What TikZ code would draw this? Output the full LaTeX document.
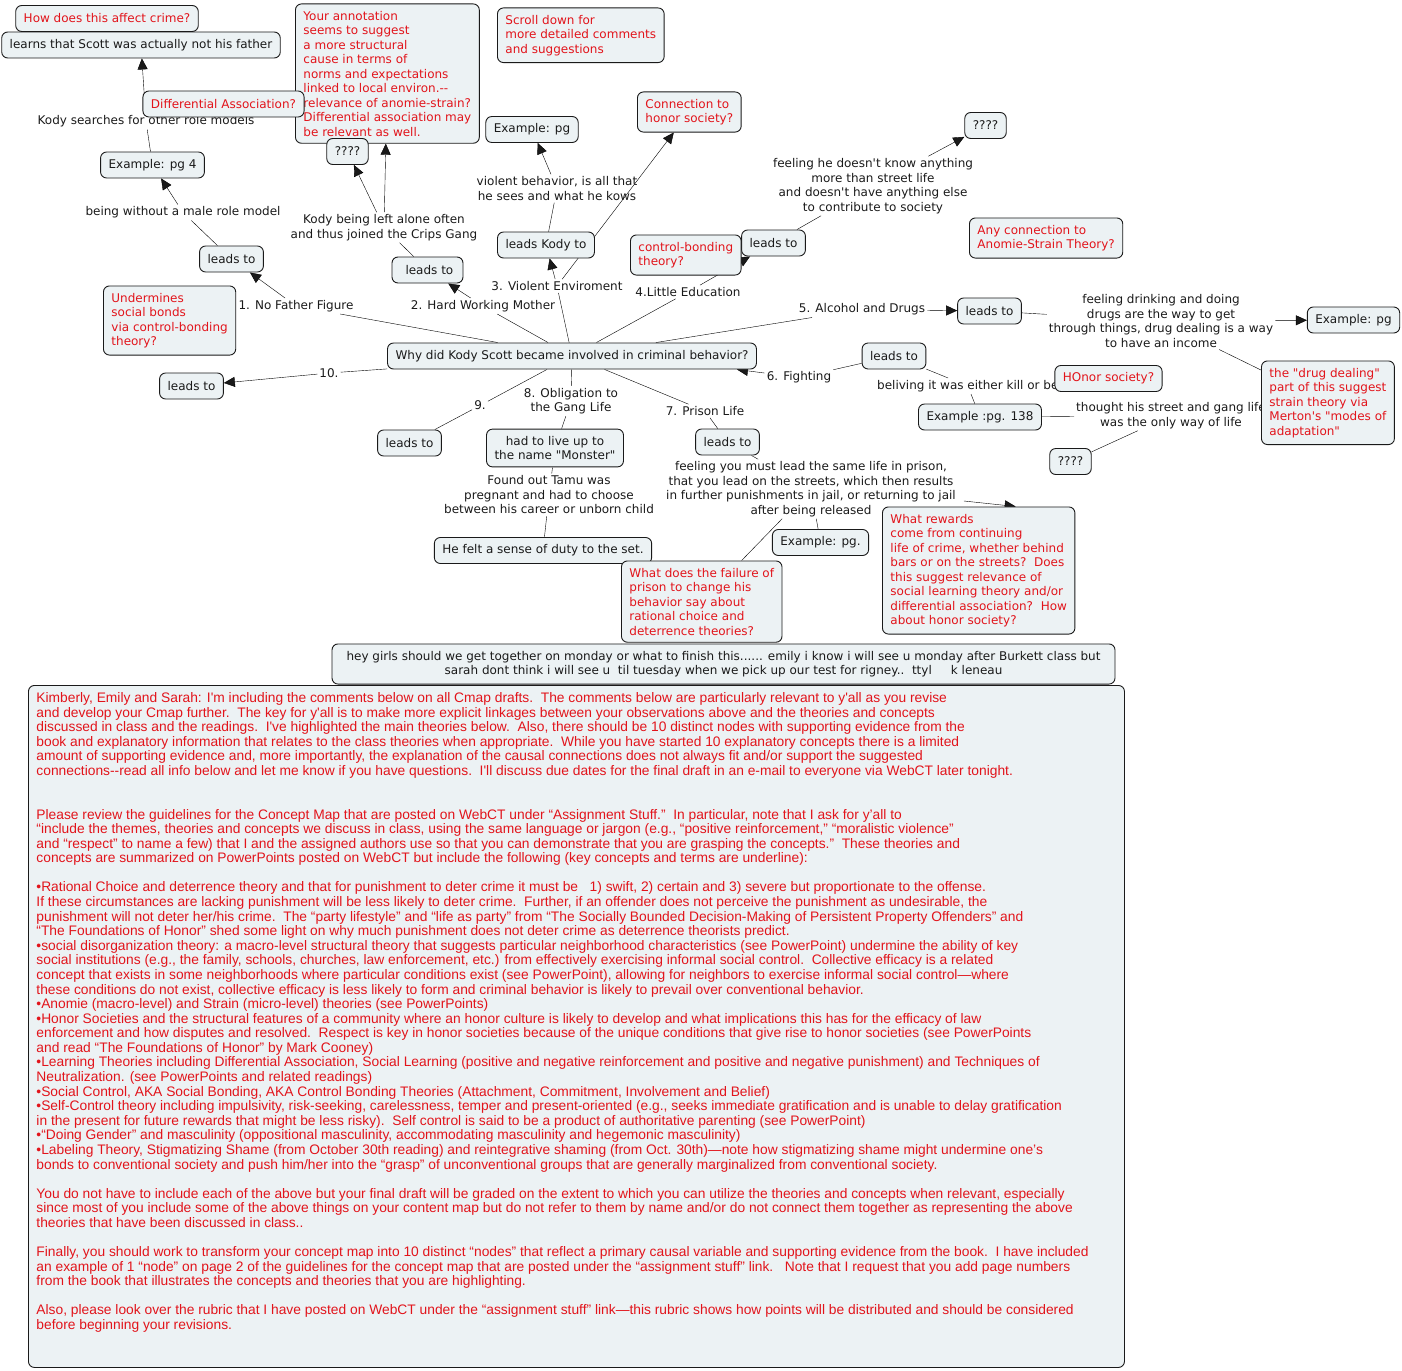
\documentclass[tikz,border=0pt]{standalone}
\usepackage{fontspec}
\setmainfont{DejaVu Sans}[Ligatures=TeXOff]
\newfontfamily\commentfont{Liberation Sans}[Ligatures=TeXOff]
\usetikzlibrary{positioning,arrows.meta,backgrounds}
\definecolor{ink}{HTML}{1A1A1A}
\definecolor{paper}{HTML}{ECF2F4}
\definecolor{remark}{HTML}{E2141B}
\newcommand{\mapfont}{\fontsize{12}{14.5}\selectfont}

\begin{document}
\begin{tikzpicture}[
  x=1pt,y=-1pt,
  font=\mapfont,
  concept/.style={draw=ink,fill=paper,rounded corners=6pt,line width=0.9pt,inner xsep=8pt,inner ysep=5pt,minimum height=26pt,text=ink,yshift=-1.5pt},
  note/.style={concept,text=remark,align=left,inner ysep=7pt},
  phrase/.style={inner sep=2pt,align=center,text=ink,yshift=-1.5pt},
  >={Triangle[length=11pt,width=10pt]}]
  \useasboundingbox (0,0) rectangle (1402,1370);

  % the question in the middle
  \node[concept] (q) at (572,354.5) {Why did Kody Scott became involved in criminal behavior?};

  % linking phrases
  \node[phrase] (nofather) at (296,304.5) {1. No Father Figure};
  \node[phrase] (hardwork) at (483,304.5) {2. Hard Working Mother};
  \node[phrase] (violenv) at (557,284.5) {3. Violent Enviroment};
  \node[phrase] (littleedu) at (688,290.5) {4.Little Education};
  \node[phrase] (alcohol) at (862,308) {5. Alcohol and Drugs};
  \node[phrase] (fighting) at (799,376) {6. Fighting};
  \node[phrase] (prison) at (705,409.5) {7. Prison Life};
  \node[phrase] (obligation) at (571,399.5) {8. Obligation to\\the Gang Life};
  \node[phrase] (nine) at (480,404) {9.};
  \node[phrase] (ten) at (329,371.5) {10.};
  \node[phrase] (nomale) at (183,211) {being without a male role model};
  \node[phrase] (searches) at (146,120) {Kody searches for other role models};
  \node[phrase] (alone) at (384,226) {Kody being left alone often\\and thus joined the Crips Gang};
  \node[phrase] (violent) at (557,187) {violent behavior, is all that\\he sees and what he kows};
  \node[phrase] (streetlife) at (873,184.5) {feeling he doesn't know anything\\more than street life\\and doesn't have anything else\\to contribute to society};
  \node[phrase] (drinking) at (1161,319.5) {feeling drinking and doing\\drugs are the way to get\\through things, drug dealing is a way\\to have an income};
  \node[phrase,anchor=west] (killorbe) at (875,384.5) {beliving it was either kill or be};
  \node[phrase] (streetgang) at (1171,414) {thought his street and gang life\\was the only way of life};
  \node[phrase] (tamu) at (549,493.5) {Found out Tamu was\\pregnant and had to choose\\between his career or unborn child};
  \node[phrase] (samelife) at (811,487.5) {feeling you must lead the same life in prison,\\that you lead on the streets, which then results\\in further punishments in jail, or returning to jail\\after being released};

  % upper left branch
  \node[concept] (notfather) at (141,43.5) {learns that Scott was actually not his father};
  \node[note] (crimeq) at (107,17) {How does this affect crime?};
  \node[note,anchor=north west] (annot) at (295,2) {Your annotation\\seems to suggest\\a more structural\\cause in terms of\\norms and expectations\\linked to local environ.--\\relevance of anomie-strain?\\Differential association may\\be relevant as well.};
  \node[note] (diffassoc) at (223.5,102.5) {Differential Association?};
  \node[concept] (pg4) at (152.5,163.5) {Example: pg 4};
  \node[concept] (leads1) at (231.5,257.5) {leads to};
  \node[concept] (qm1) at (347.5,150) {????};
  \node[concept,minimum width=71pt] (leads2) at (427.5,268.5) {\ leads to};
  \node[note,anchor=north west] (undermines) at (103,284) {Undermines\\social bonds\\via control-bonding\\theory?};
  \node[concept] (leads5) at (191.5,384.5) {leads to};

  % upper right branch
  \node[note,anchor=north west] (scroll) at (497,6) {Scroll down for\\more detailed comments\\and suggestions};
  \node[concept] (pgviol) at (532,128) {Example: pg};
  \node[note,anchor=north west] (honor1) at (637,90) {Connection to\\honor society?};
  \node[concept] (leadskody) at (546,243.5) {leads Kody to};
  \node[concept] (leads3) at (773.5,241.5) {leads to};
  \node[note,anchor=north west] (ctrlbond) at (630,233) {control-bonding\\theory?};
  \node[concept] (qm2) at (985.5,124) {????};
  \node[note,anchor=north west] (anomie) at (969,216) {Any connection to\\Anomie-Strain Theory?};
  \node[concept] (leads4) at (989.5,309.5) {leads to};
  \node[concept] (pgdrug) at (1353.5,318.5) {Example: pg};
  \node[note,anchor=north west] (dealing) at (1261,359) {the "drug dealing"\\part of this suggest\\strain theory via\\Merton's "modes of\\adaptation"};
  \node[concept] (leads6) at (894,354.5) {leads to};
  \node[note] (honor2) at (1108.5,377) {HOnor society?};
  \node[concept] (pg138) at (980,415.5) {Example :pg. 138};
  \node[concept] (qm3) at (1070.5,460) {????};

  % lower branch
  \node[concept] (leads7) at (409.5,441.5) {leads to};
  \node[concept,align=center,inner ysep=7pt] (monster) at (555,446.5) {had to live up to\\the name "Monster"};
  \node[concept] (duty) at (543,549) {He felt a sense of duty to the set.};
  \node[concept] (leads8) at (727.5,440.5) {leads to};
  \node[concept] (pgprison) at (820.5,541) {Example: pg.};
  \node[note,anchor=north west] (failure) at (621,559) {What does the failure of\\prison to change his\\behavior say about\\rational choice and\\deterrence theories?};
  \node[note,anchor=north west] (rewards) at (882,505) {What rewards\\come from continuing\\life of crime, whether behind\\bars or on the streets?\ \ Does\\this suggest relevance of\\social learning theory and/or\\differential association?\ \ How\\about honor society?};

  % notes at the bottom
  \node[concept,align=center,minimum width=783pt,inner ysep=7pt] (girls) at (723.5,662.5) {hey girls should we get together on monday or what to finish this...... emily i know i will see u monday after Burkett class but\\sarah dont think i will see u\ \ til tuesday when we pick up our test for rigney..\ \ ttyl\ \ \ \ \ k leneau};
  \node[draw=ink,fill=paper,rounded corners=6pt,line width=0.9pt,anchor=north west,text=remark,inner xsep=8pt,inner ysep=5pt] (comments) at (28,685) {\parbox[t][672pt][t]{1080pt}{\commentfont\fontsize{13.8}{14.58}\selectfont\raggedright\vspace*{2pt}
Kimberly, Emily and Sarah: I'm including the comments below on all Cmap drafts.\ \ The comments below are particularly relevant to y'all as you revise\\
and develop your Cmap further.\ \ The key for y'all is to make more explicit linkages between your observations above and the theories and concepts\\
discussed in class and the readings.\ \ I've highlighted the main theories below.\ \ Also, there should be 10 distinct nodes with supporting evidence from the\\
book and explanatory information that relates to the class theories when appropriate.\ \ While you have started 10 explanatory concepts there is a limited\\
amount of supporting evidence and, more importantly, the explanation of the causal connections does not always fit and/or support the suggested\\
connections--read all info below and let me know if you have questions.\ \ I'll discuss due dates for the final draft in an e-mail to everyone via WebCT later tonight.\\
\mbox{}\\
\mbox{}\\
Please review the guidelines for the Concept Map that are posted on WebCT under “Assignment Stuff.”\ \ In particular, note that I ask for y’all to\\
“include the themes, theories and concepts we discuss in class, using the same language or jargon (e.g., “positive reinforcement,” “moralistic violence”\\
and “respect” to name a few) that I and the assigned authors use so that you can demonstrate that you are grasping the concepts.”\ \ These theories and\\
concepts are summarized on PowerPoints posted on WebCT but include the following (key concepts and terms are underline):\\
\mbox{}\\
•Rational Choice and deterrence theory and that for punishment to deter crime it must be\ \ \ 1) swift, 2) certain and 3) severe but proportionate to the offense.\\
If these circumstances are lacking punishment will be less likely to deter crime.\ \ Further, if an offender does not perceive the punishment as undesirable, the\\
punishment will not deter her/his crime.\ \ The “party lifestyle” and “life as party” from “The Socially Bounded Decision-Making of Persistent Property Offenders” and\\
“The Foundations of Honor” shed some light on why much punishment does not deter crime as deterrence theorists predict.\\
•social disorganization theory: a macro-level structural theory that suggests particular neighborhood characteristics (see PowerPoint) undermine the ability of key\\
social institutions (e.g., the family, schools, churches, law enforcement, etc.) from effectively exercising informal social control.\ \ Collective efficacy is a related\\
concept that exists in some neighborhoods where particular conditions exist (see PowerPoint), allowing for neighbors to exercise informal social control—where\\
these conditions do not exist, collective efficacy is less likely to form and criminal behavior is likely to prevail over conventional behavior.\\
•Anomie (macro-level) and Strain (micro-level) theories (see PowerPoints)\\
•Honor Societies and the structural features of a community where an honor culture is likely to develop and what implications this has for the efficacy of law\\
enforcement and how disputes and resolved.\ \ Respect is key in honor societies because of the unique conditions that give rise to honor societies (see PowerPoints\\
and read “The Foundations of Honor” by Mark Cooney)\\
•Learning Theories including Differential Association, Social Learning (positive and negative reinforcement and positive and negative punishment) and Techniques of\\
Neutralization. (see PowerPoints and related readings)\\
•Social Control, AKA Social Bonding, AKA Control Bonding Theories (Attachment, Commitment, Involvement and Belief)\\
•Self-Control theory including impulsivity, risk-seeking, carelessness, temper and present-oriented (e.g., seeks immediate gratification and is unable to delay gratification\\
in the present for future rewards that might be less risky).\ \ Self control is said to be a product of authoritative parenting (see PowerPoint)\\
•“Doing Gender” and masculinity (oppositional masculinity, accommodating masculinity and hegemonic masculinity)\\
•Labeling Theory, Stigmatizing Shame (from October 30th reading) and reintegrative shaming (from Oct. 30th)—note how stigmatizing shame might undermine one’s\\
bonds to conventional society and push him/her into the “grasp” of unconventional groups that are generally marginalized from conventional society.\\
\mbox{}\\
You do not have to include each of the above but your final draft will be graded on the extent to which you can utilize the theories and concepts when relevant, especially\\
since most of you include some of the above things on your content map but do not refer to them by name and/or do not connect them together as representing the above\\
theories that have been discussed in class..\\
\mbox{}\\
Finally, you should work to transform your concept map into 10 distinct “nodes” that reflect a primary causal variable and supporting evidence from the book.\ \ I have included\\
an example of 1 “node” on page 2 of the guidelines for the concept map that are posted under the “assignment stuff” link.\ \ \ Note that I request that you add page numbers\\
from the book that illustrates the concepts and theories that you are highlighting.\\
\mbox{}\\
Also, please look over the rubric that I have posted on WebCT under the “assignment stuff” link—this rubric shows how points will be distributed and should be considered\\
before beginning your revisions.}};

  % connectors
  \begin{scope}[on background layer,draw=ink,line width=0.9pt]
    \draw (q) -- (nofather);
    \draw[->] (nofather) -- (leads1);
    \draw (leads1) -- (nomale);
    \draw[->] (nomale) -- (pg4);
    \draw (pg4) -- (searches);
    \draw[->] (searches) -- (notfather);
    \draw (q) -- (hardwork);
    \draw[->] (hardwork) -- (leads2);
    \draw (leads2) -- (alone);
    \draw[->] (alone) -- (qm1);
    \draw[->] (alone) -- (annot);
    \draw (q) -- (violenv);
    \draw[->] (violenv) -- (leadskody);
    \draw[->] (violenv) -- (honor1);
    \draw (leadskody) -- (violent);
    \draw[->] (violent) -- (pgviol);
    \draw (q) -- (littleedu);
    \draw[->] (littleedu) -- (leads3);
    \draw (leads3) -- (streetlife);
    \draw[->] (streetlife) -- (qm2);
    \draw (q) -- (alcohol);
    \draw[->] (alcohol) -- (leads4);
    \draw (leads4) -- (drinking);
    \draw[->] (drinking) -- (pgdrug);
    \draw (drinking) -- (dealing);
    \draw[->] (fighting) -- ([xshift=-20pt]q.south east);
    \draw (fighting) -- (leads6);
    \draw (leads6) -- (killorbe);
    \draw (killorbe) -- (pg138);
    \draw (pg138) -- (streetgang);
    \draw (streetgang) -- (qm3);
    \draw (q) -- (prison);
    \draw (prison) -- (leads8);
    \draw (leads8) -- (samelife);
    \draw (samelife) -- (pgprison);
    \draw (samelife) -- (failure);
    \draw[->] ([shift={(6pt,-12pt)}]samelife.east) -- ([xshift=37pt]rewards.north);
    \draw (q) -- (obligation);
    \draw (obligation) -- (monster);
    \draw (monster) -- (tamu);
    \draw (tamu) -- (duty);
    \draw (q) -- (nine);
    \draw (nine) -- (leads7);
    \draw (q) -- (ten);
    \draw[->] (ten) -- (leads5);
  \end{scope}
\end{tikzpicture}
\end{document}
